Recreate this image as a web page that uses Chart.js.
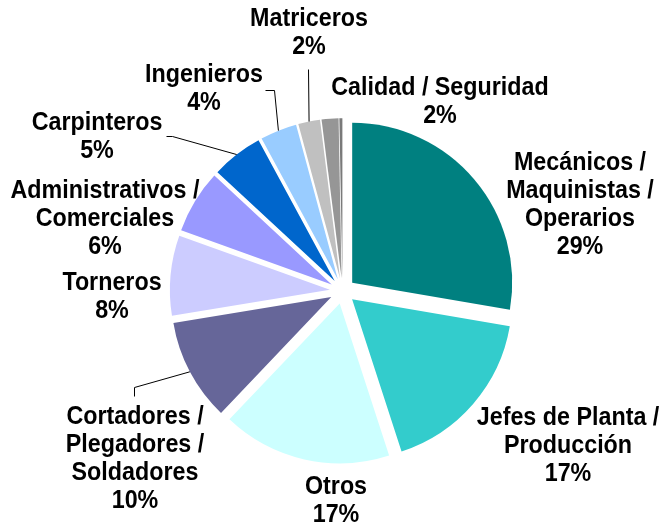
<!DOCTYPE html>
<html>
<head>
<meta charset="utf-8">
<script src="https://cdn.jsdelivr.net/npm/chart.js@4"></script>
<style>
  html, body { margin: 0; padding: 0; background: #fff; }
  #wrap { width: 663px; height: 523px; }
</style>
</head>
<body>
<div id="wrap"><canvas id="pieChart" width="663" height="523"></canvas></div>
<script>
// categories in drawing order (clockwise from 12 o'clock)
const categories = [
    'Mecánicos /\nMaquinistas /\nOperarios',
    'Jefes de Planta /\nProducción',
    'Otros',
    'Cortadores /\nPlegadores /\nSoldadores',
    'Torneros',
    'Administrativos /\nComerciales',
    'Carpinteros',
    'Ingenieros',
    'Matriceros',
    'Calidad / Seguridad',
    ''
];
// slice sizes
const shares = [27.7, 17.3, 17.1, 10.3, 8.1, 6.4, 5.2, 3.7, 2.2, 1.7, 0.3];
// percentages as printed on the chart
const pctLabels = ['29%', '17%', '17%', '10%', '8%', '6%', '5%', '4%', '2%', '2%', ''];

const colors = ['#008080', '#33CCCC', '#CCFFFF', '#666699', '#CCCCFF', '#9999FF',
                '#0066CC', '#99CCFF', '#C0C0C0', '#969696', '#7A7A7A'];

// where each label block sits (center of the text block)
const labelBoxes = [
    { x: 580, y: 205 }, { x: 568, y: 446 }, { x: 336, y: 501 }, { x: 135, y: 459 },
    { x: 112, y: 297 }, { x: 105, y: 219 }, { x: 97, y: 137 }, { x: 204, y: 89 },
    { x: 309, y: 33 }, { x: 440, y: 102 }, null
];
// leader line start points (label side); the slice end is taken from the arc
const leaders = {
    3: [[134, 396], [134, 387]],
    6: [[166, 136], [172, 136]],
    7: [[265, 90], [274, 90]],
    8: [[308, 69]]
};

const EXPLODE = 12.7;
const LINE_H = 28;

// push every slice outwards along its mid angle (keeps all radii equal)
const explodePlugin = {
    id: 'explode',
    afterDatasetsUpdate(chart) {
        chart.getDatasetMeta(0).data.forEach(arc => {
            const mid = (arc.startAngle + arc.endAngle) / 2;
            arc.x += Math.cos(mid) * EXPLODE;
            arc.y += Math.sin(mid) * EXPLODE;
        });
    }
};

const labelPlugin = {
    id: 'sliceLabels',
    afterDraw(chart) {
        const ctx = chart.ctx;
        const arcs = chart.getDatasetMeta(0).data;
        ctx.save();

        // leader lines
        ctx.strokeStyle = '#000';
        ctx.lineWidth = 1;
        Object.keys(leaders).forEach(k => {
            const arc = arcs[k];
            const mid = (arc.startAngle + arc.endAngle) / 2;
            const ex = arc.x + Math.cos(mid) * arc.outerRadius;
            const ey = arc.y + Math.sin(mid) * arc.outerRadius;
            ctx.beginPath();
            leaders[k].forEach((p, j) => {
                if (j === 0) ctx.moveTo(p[0] + 0.5, p[1] + 0.5);
                else ctx.lineTo(p[0] + 0.5, p[1] + 0.5);
            });
            ctx.lineTo(ex, ey);
            ctx.stroke();
        });

        // text
        ctx.fillStyle = '#000';
        ctx.font = 'bold 23.3px "Liberation Sans", Arial, sans-serif';
        ctx.textAlign = 'center';
        ctx.textBaseline = 'middle';
        categories.forEach((name, i) => {
            const box = labelBoxes[i];
            if (!box || !name) return;
            const lines = name.split('\n').concat([pctLabels[i]]);
            lines.forEach((line, j) => {
                const y = box.y + (j - (lines.length - 1) / 2) * LINE_H;
                ctx.save();
                ctx.translate(box.x, y);
                ctx.scale(1, 1.12);
                ctx.fillText(line, 0, 0);
                ctx.restore();
            });
        });
        ctx.restore();
    }
};

const ctx = document.getElementById('pieChart').getContext('2d');

const pieChart = new Chart(ctx, {
    type: 'pie',
    data: {
        labels: categories,
        datasets: [{
            data: shares,
            backgroundColor: colors,
            borderWidth: 0,
            radius: 160
        }]
    },
    options: {
        responsive: false,
        animation: false,
        events: [],
        layout: {
            padding: { left: 22, top: 59, right: 0, bottom: 0 }
        },
        plugins: {
            legend: { display: false },
            tooltip: { enabled: false }
        }
    },
    plugins: [explodePlugin, labelPlugin]
});
</script>
</body>
</html>
